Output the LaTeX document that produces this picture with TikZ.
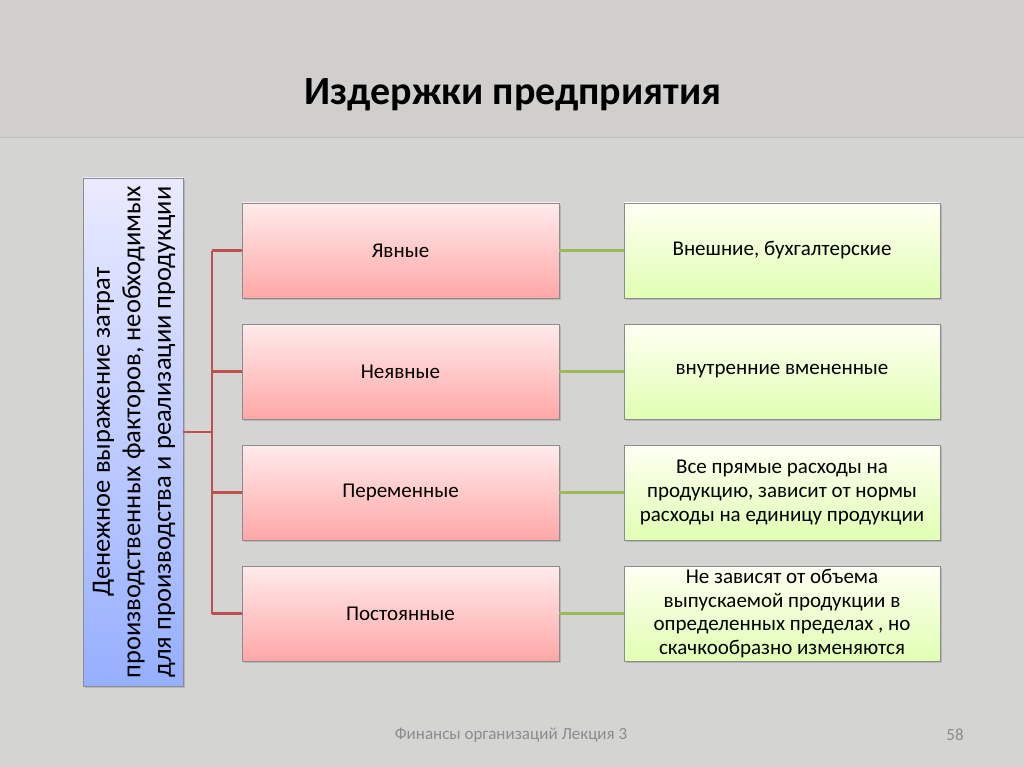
\documentclass[tikz,border=0pt]{standalone}
\usepackage{fontspec}
\setmainfont{Carlito}
\usetikzlibrary{shadows}
\definecolor{bg}{HTML}{D4D4D3}
\definecolor{bgtop}{HTML}{D0CFCD}
\definecolor{redline}{HTML}{C0504D}
\definecolor{greenline}{HTML}{9BBB59}
\definecolor{foot}{HTML}{8C8C8C}
\tikzset{
  x=1pt,y=-1pt,
  box/.style={draw=black!45,line width=0.6pt,minimum width=317pt,minimum height=95pt,
    inner ysep=1pt,align=center,font=\fontsize{21}{23.8}\selectfont,
    drop shadow={shadow xshift=2pt,shadow yshift=-2pt,opacity=0.35}},
  pinkbox/.style={box,top color=red!8!white,bottom color=red!35!white!95!pink},
  greenbox/.style={box,minimum width=316pt,top color=green!4!yellow!5!white,bottom color=green!40!yellow!30!white},
  redcon/.style={draw=redline,line width=2.8pt},
  greencon/.style={draw=greenline,line width=2.6pt},
}
\begin{document}
\begin{tikzpicture}
\useasboundingbox (0,0) rectangle (1024,767);
\fill[bg] (0,0) rectangle (1024,767);
\fill[bgtop] (0,0) rectangle (1024,138);
\draw[black!25,line width=1pt] (0,138) -- (1024,138);
\node[font=\fontsize{40}{46}\selectfont\bfseries] (title) at (513,95) {Издержки предприятия};
% left box
\node[draw=black!45,line width=0.6pt,minimum width=100pt,minimum height=508pt,
  top color=blue!8!white,bottom color=blue!35!white!90!cyan,
  drop shadow={shadow xshift=2pt,shadow yshift=-2pt,opacity=0.35}] (def) at (133,432) {};
\node[rotate=90,align=center,font=\fontsize{26.5}{30.5}\selectfont] (deftext) at (134,432)
  {Денежное выражение затрат\\производственных факторов, необходимых\\для производства и реализации продукции};
% pink boxes
\node[pinkbox] (p1) at (400.5,250.5) {Явные};
\node[pinkbox] (p2) at (400.5,371.5) {Неявные};
\node[pinkbox] (p3) at (400.5,492.5) {Переменные};
\node[pinkbox] (p4) at (400.5,613.5) {Постоянные};
% green boxes
\node[greenbox] (g1) at (782,250.5) {Внешние, бухгалтерские};
\node[greenbox] (g2) at (782,371.5) {внутренние вмененные};
\node[greenbox] (g3) at (782,492.5) {Все прямые расходы на\\продукцию, зависит от нормы\\расходы на единицу продукции};
\node[greenbox] (g4) at (782,613.5) {Не зависят от объема\\выпускаемой продукции в\\определенных пределах , но\\скачкообразно изменяются};
% connectors
\coordinate (bus) at (212,432);
\draw[redcon] (def.east |- bus) -- (bus);
\draw[redcon] (bus |- p1.west) -- (bus |- p4.west);
\foreach \i in {1,...,4}{
  \draw[redcon] (bus |- p\i.west) -- (p\i.west);
  \draw[greencon] (p\i.east) -- (g\i.west);
}
% footer
\node[text=foot,font=\fontsize{17}{20}\selectfont] (f1) at (511,735) {Финансы организаций Лекция 3};
\node[text=foot,font=\fontsize{17}{20}\selectfont] (f2) at (955,735) {58};
\end{tikzpicture}
\end{document}
